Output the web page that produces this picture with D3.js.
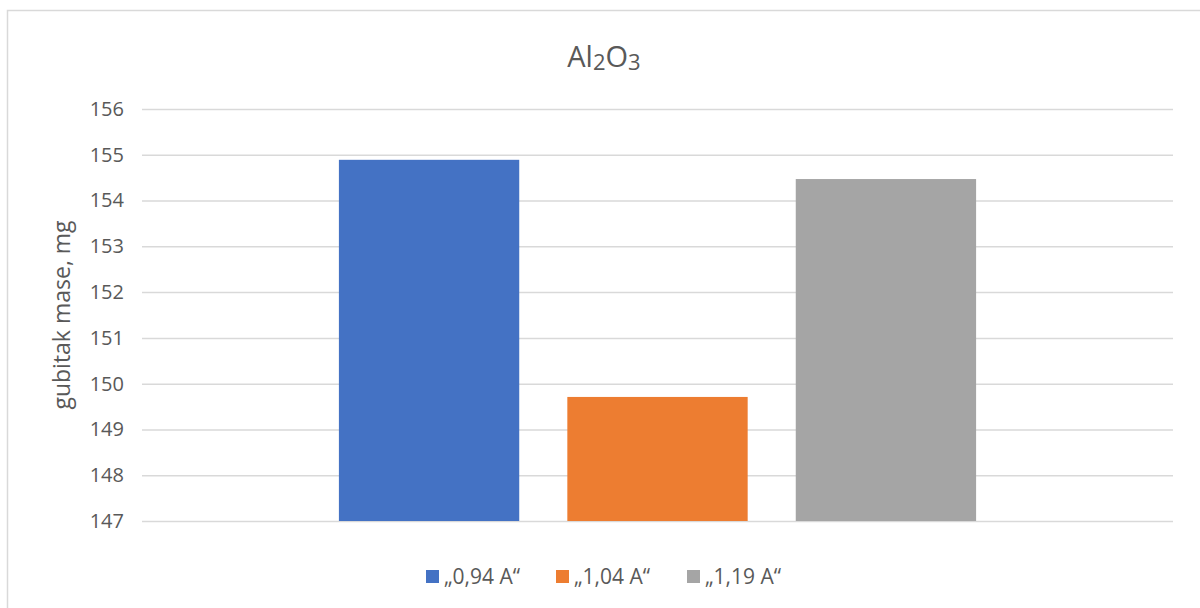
<!DOCTYPE html>
<html>
<head>
<meta charset="utf-8">
<script src="https://cdn.jsdelivr.net/npm/d3@7"></script>
<style>
  html, body { margin: 0; padding: 0; background: #fff; }
  svg { display: block; font-family: "Open Sans", "Liberation Sans", sans-serif; }
</style>
</head>
<body>
<svg id="chart" width="1200" height="608"></svg>
<script>
const categories = [""];
const seriesNames = ["„0,94 A“", "„1,04 A“", "„1,19 A“"];
const seriesValues = [154.89, 149.71, 154.47];
const seriesColors = ["#4472c4", "#ed7d31", "#a5a5a5"];
const yTicks = [147, 148, 149, 150, 151, 152, 153, 154, 155, 156];
const yLabel = "gubitak mase, mg";

const svg = d3.select("#chart");
const W = 1200, H = 608;
const plot = { left: 142, right: 1173, top: 109, bottom: 521 };

svg.append("rect").attr("x", 7.5).attr("y", 10.5).attr("width", W).attr("height", H)
  .attr("fill", "#fff").attr("stroke", "#d9d9d9").attr("stroke-width", 1.5);

const y = d3.scaleLinear().domain([147, 156]).range([plot.bottom, plot.top]);
const x0 = d3.scaleBand().domain(categories).range([plot.left, plot.right]).paddingOuter(0.309).paddingInner(0);
const x1 = d3.scaleBand().domain(seriesNames).range([0, x0.bandwidth()]).paddingInner(0.2105).paddingOuter(0);

// gridlines
const yAxis = d3.axisLeft(y).tickValues(yTicks).tickSize(-(plot.right - plot.left)).tickPadding(18).tickFormat(d3.format("d"));
const gAxis = svg.append("g").attr("transform", `translate(${plot.left},0)`).call(yAxis);
gAxis.select(".domain").remove();
gAxis.selectAll(".tick line").attr("stroke", "#d9d9d9").attr("stroke-width", 1.5);
gAxis.selectAll(".tick text").attr("fill", "#595959").attr("font-size", 20)
  .attr("font-family", "'Open Sans', sans-serif");

// bars
const data = seriesNames.map((s, i) => ({ cat: categories[0], series: s, value: seriesValues[i], color: seriesColors[i] }));
svg.append("g").selectAll("rect").data(data).join("rect")
  .attr("x", d => x0(d.cat) + x1(d.series))
  .attr("width", x1.bandwidth())
  .attr("y", d => y(d.value))
  .attr("height", d => y(147) - y(d.value))
  .attr("fill", d => d.color);

// title
const title = svg.append("text").attr("x", 604).attr("y", 67).attr("text-anchor", "middle")
  .attr("font-size", 29).attr("fill", "#595959");
title.append("tspan").text("Al");
title.append("tspan").attr("font-size", 22).attr("dy", 3).text("2");
title.append("tspan").attr("dy", -3).text("O");
title.append("tspan").attr("font-size", 22).attr("dy", 3).text("3");

// y label
svg.append("text")
  .attr("transform", `translate(70,${(plot.top + plot.bottom) / 2}) rotate(-90)`)
  .attr("text-anchor", "middle").attr("font-size", 23).attr("fill", "#595959")
  .text(yLabel);

// legend
const legendX = [426, 556, 687];
const lg = svg.append("g").selectAll("g").data(data).join("g")
  .attr("transform", (d, i) => `translate(${legendX[i]},570)`);
lg.append("rect").attr("width", 13).attr("height", 13).attr("fill", d => d.color);
lg.append("text").attr("x", 18).attr("y", 14).attr("font-size", 21).attr("fill", "#595959").text(d => d.series);
</script>
</body>
</html>
